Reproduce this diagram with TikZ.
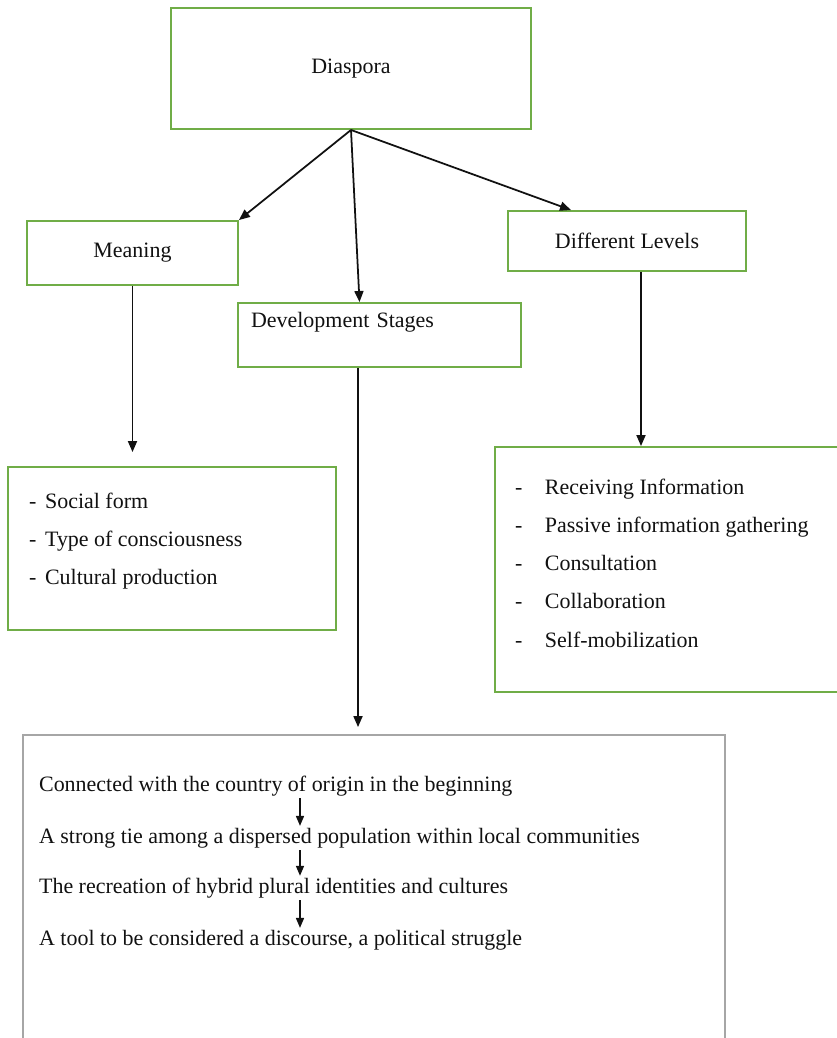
\documentclass[tikz,border=0pt]{standalone}
\usepackage{fontspec}
\setmainfont{Liberation Serif}
\usetikzlibrary{arrows.meta,positioning}
\definecolor{diaInk}{HTML}{111111}
\definecolor{diaGreen}{HTML}{70AD47}
\definecolor{diaGray}{HTML}{A6A6A6}
\tikzset{
  every picture/.style={font=\fontsize{12.5}{15}\selectfont, text=diaInk},
  dia box/.style={draw=diaGreen, line width=1.1pt, fill=white, inner sep=0pt},
  dia frame/.style={draw=diaGray, line width=1.1pt, inner sep=0pt},
  dia arrow/.style={-{Triangle[length=2.2mm,width=1.8mm]},
    draw=diaInk, line width=1pt},
  dia step/.style={-{Triangle[length=2mm,width=1.6mm]},
    draw=diaInk, line width=0.9pt},
  dia list/.style={inner sep=1pt, align=left,
    font=\fontsize{12.5}{21.8}\selectfont},
  dia line/.style={inner sep=1pt}
}

\begin{document}
\begin{tikzpicture}[x=0.02cm,y=-0.02cm]
  \useasboundingbox (0,0) rectangle (836,1038);
  % top level
  \node[dia box, minimum width=7.2cm, minimum height=2.42cm] (diaspora) at (351,68.5) {Diaspora};
  \node[dia box, minimum width=4.22cm, minimum height=1.28cm] (meaning) at (132.5,253) {Meaning};
  \node[dia box, minimum width=5.66cm, minimum height=1.28cm, text width=5.14cm,
    text height=0.48cm, text depth=0.8cm, align=left] (stages) at (379.5,335) {Development Stages};
  \node[dia box, minimum width=4.76cm, minimum height=1.2cm] (levels) at (627,241) {Different Levels};

  % meaning
  \node[dia box, minimum width=6.56cm, minimum height=3.26cm] (formbox) at (172,548.5) {};
  \node[dia list, anchor=west] (forms) at (27,541)
    {\makebox[9.1pt][l]{-}Social form\\
     \makebox[9.1pt][l]{-}Type of consciousness\\
     \makebox[9.1pt][l]{-}Cultural production};

  % levels
  \node[dia box, minimum width=7.1cm, minimum height=4.9cm] (levelbox) at (672.5,569.5) {};
  \node[dia list, anchor=west] (levellist) at (513,563)
    {\makebox[17pt][l]{-}Receiving Information\\
     \makebox[17pt][l]{-}Passive information gathering\\
     \makebox[17pt][l]{-}Consultation\\
     \makebox[17pt][l]{-}Collaboration\\
     \makebox[17pt][l]{-}Self-mobilization};

  % stages
  \node[dia frame, minimum width=14.04cm, minimum height=6.3cm] (stagebox) at (374,892.5) {};
  \node[dia line, anchor=west] (stage1) at (37,786) {Connected with the country of origin in the beginning};
  \node[dia line, anchor=west] (stage2) at (37,838) {A strong tie among a dispersed population within local communities};
  \node[dia line, anchor=west] (stage3) at (37,888) {The recreation of hybrid plural identities and cultures};
  \node[dia line, anchor=west] (stage4) at (37,940) {A tool to be considered a discourse, a political struggle};
  \coordinate (stagex) at (300,786);

  % connectors
  \draw[dia arrow] (diaspora.south) -- (meaning.north east);
  \draw[dia arrow] (diaspora.south) -- ([xshift=-0.4cm]stages.north);
  \draw[dia arrow] (diaspora.south) -- ([xshift=-1.12cm]levels.north);
  \draw[dia arrow, shorten >=0.28cm] (meaning.south) -- (meaning.south |- formbox.north);
  \draw[dia arrow] ([xshift=0.28cm]levels.south) -- ([xshift=0.28cm]levels.south |- levelbox.north);
  \draw[dia arrow, shorten >=0.14cm] ([xshift=-0.43cm]stages.south) -- ([xshift=-0.43cm]stages.south |- stagebox.north);
  \draw[dia step] (stage1.south -| stagex) -- (stage2.north -| stagex);
  \draw[dia step] (stage2.south -| stagex) -- (stage3.north -| stagex);
  \draw[dia step] (stage3.south -| stagex) -- (stage4.north -| stagex);
\end{tikzpicture}
\end{document}
